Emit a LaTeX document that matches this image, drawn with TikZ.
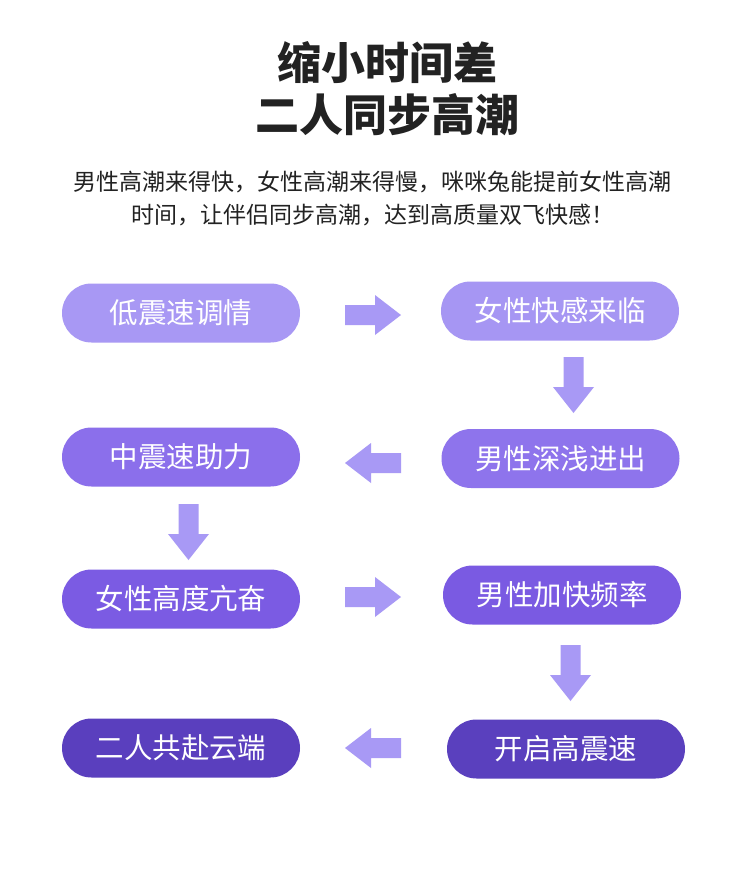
\documentclass[tikz,border=0pt]{standalone}
\usepackage{fontspec}
\setmainfont{Noto Sans CJK SC}
\begin{document}
\begin{tikzpicture}[x=1pt,y=-1pt,
  pill/.style={rounded corners=29.5pt, minimum width=238pt, minimum height=59pt, inner sep=0pt, text=white, font=\fontsize{28.5}{32}\selectfont},
  arr/.style={fill=arrowc, draw=none}
]
\definecolor{arrowc}{HTML}{A899F5}
\definecolor{c1}{HTML}{A898F4}
\definecolor{c2}{HTML}{A696F3}
\definecolor{c3}{HTML}{8E74EC}
\definecolor{c4}{HTML}{8B6FEB}
\definecolor{c5}{HTML}{7B5BE3}
\definecolor{c6}{HTML}{7A5AE2}
\definecolor{c7}{HTML}{5A40BE}
\definecolor{c8}{HTML}{5A3FBE}
\definecolor{titlec}{HTML}{222222}
\useasboundingbox[fill=white] (0,0) rectangle (750,876);

\node[text=titlec, font=\fontsize{44}{52}\selectfont\bfseries] (t1) at (387,63) {缩小时间差};
\node[text=titlec, font=\fontsize{44}{52}\selectfont\bfseries] (t2) at (387,115) {二人同步高潮};
\node[text=titlec, font=\fontsize{23}{26}\selectfont] (s1) at (372.5,182) {男性高潮来得快，女性高潮来得慢，咪咪兔能提前女性高潮};
\node[text=titlec, font=\fontsize{23}{26}\selectfont] (s2) at (372.5,215) {时间，让伴侣同步高潮，达到高质量双飞快感！};

\node[pill, fill=c1] (b1) at (181,313) {低震速调情};
\node[pill, fill=c2] (b2) at (560,311) {女性快感来临};
\node[pill, fill=c3] (b3) at (560.5,458.5) {男性深浅进出};
\node[pill, fill=c4] (b4) at (181,457) {中震速助力};
\node[pill, fill=c5] (b5) at (181,599) {女性高度亢奋};
\node[pill, fill=c6] (b6) at (562,595) {男性加快频率};
\node[pill, fill=c7] (b7) at (566,749) {开启高震速};
\node[pill, fill=c8] (b8) at (181,748) {二人共赴云端};

% right arrows
\coordinate (r1) at (345,315);
\coordinate (r2) at (345,597);
\foreach \c in {r1,r2}{
  \fill[arrowc] ([shift={(0,-10)}]\c) -- ++(30,0) -- ++(0,-10) -- ++(26,20) -- ++(-26,20) -- ++(0,-10) -- ++(-30,0) -- cycle;
}
% left arrows
\coordinate (l1) at (401,463);
\coordinate (l2) at (401,748);
\foreach \c in {l1,l2}{
  \fill[arrowc] ([shift={(0,-10)}]\c) -- ++(-30,0) -- ++(0,-10) -- ++(-26,20) -- ++(26,20) -- ++(0,-10) -- ++(30,0) -- cycle;
}
% down arrows
\coordinate (d1) at (573.5,357);
\coordinate (d2) at (188.5,504);
\coordinate (d3) at (570.5,645);
\foreach \c in {d1,d2,d3}{
  \fill[arrowc] ([shift={(-10,0)}]\c) -- ++(0,30) -- ++(-10.5,0) -- ++(20.5,26) -- ++(20.5,-26) -- ++(-10.5,0) -- ++(0,-30) -- cycle;
}
\end{tikzpicture}
\end{document}
